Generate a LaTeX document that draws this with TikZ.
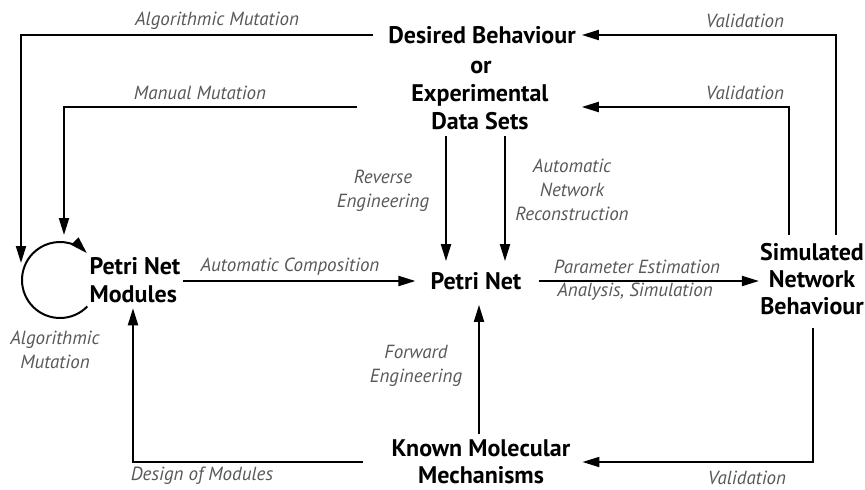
\documentclass[tikz,border=0pt]{standalone}
\usepackage{fontspec}
\setmainfont{PT Sans}
\usetikzlibrary{arrows.meta}
\definecolor{labelgrey}{HTML}{585858}
\begin{document}
\begin{tikzpicture}[x=1pt,y=-1pt,
  box/.style={font=\fontsize{24}{28.7}\selectfont\bfseries, inner sep=0pt, align=center},
  lbl/.style={font=\fontsize{19}{24}\selectfont\itshape, text=labelgrey, inner sep=0pt, align=center},
  flow/.style={line width=2pt, -{Triangle[length=17pt,width=10pt]}}]
\useasboundingbox (0,0) rectangle (865,490);

% main blocks
\node[box] (des) at (482,35) {Desired Behaviour};
\node[box] (orword) at (481,67) {or};
\node[box] (exp) at (480,107) {Experimental\\Data Sets};
\node[box] (pn) at (476,281) {Petri Net};
\node[box,align=left] (mod) at (135,280) {Petri Net\\Modules};
\node[box,font=\fontsize{24}{27}\selectfont\bfseries] (sim) at (812,279) {Simulated\\Network\\Behaviour};
\node[box,font=\fontsize{24}{27}\selectfont\bfseries] (kmm) at (481,462) {Known Molecular\\Mechanisms};

% columns and free ends of connectors
\coordinate (colRev) at (446,0);
\coordinate (colAuto) at (505,0);
\coordinate (colV1) at (836,0);
\coordinate (colV2) at (789,0);
\coordinate (colV3) at (813,0);
\coordinate (colFwd) at (479,0);
\coordinate (colDes) at (133,0);
\coordinate (algEnd) at (21,263);
\coordinate (manEnd) at (64,235);
\coordinate (loopc) at (60,280);

% connectors
\draw[flow, shorten <=15pt] (des.west) -| (algEnd);
\draw[flow, shorten <=54pt] (exp.west) -| (manEnd);
\draw[flow, shorten <=8pt, shorten >=6pt] (sim.north -| colV1) |- (des.east);
\draw[flow, shorten <=8pt, shorten >=33pt] (sim.north -| colV2) |- (exp.east);
\draw[flow, shorten <=6pt, shorten >=11pt] (exp.south -| colRev) -- (pn.north -| colRev);
\draw[flow, shorten <=6pt, shorten >=11pt] (exp.south -| colAuto) -- (pn.north -| colAuto);
\draw[flow, shorten <=2pt, shorten >=15pt] (mod.east |- pn.west) -- (pn.west);
\draw[flow, shorten <=17pt, shorten >=1pt] (pn.east) -- (sim.west |- pn.east);
\draw[flow, shorten <=13pt, shorten >=12pt] (sim.south -| colV3) |- (kmm.east);
\draw[flow, shorten <=29pt, shorten >=5pt] (kmm.west) -| (mod.south -| colDes);
\draw[flow, shorten <=6pt, shorten >=15pt] (kmm.north -| colFwd) -- (pn.south -| colFwd);
\draw[flow] (loopc) ++(44:38) arc[start angle=44, end angle=315, radius=38];

% labels
\node[lbl] (lAlg) at (217,21) {Algorithmic Mutation};
\node[lbl] (lMan) at (200,93) {Manual Mutation};
\node[lbl] (lVal1) at (745,21) {Validation};
\node[lbl] (lVal2) at (745,93) {Validation};
\node[lbl] (lRev) at (383,191) {Reverse\\Engineering};
\node[lbl] (lAuto) at (572,190) {Automatic\\Network\\Reconstruction};
\node[lbl] (lComp) at (290,267) {Automatic Composition};
\node[lbl] (lPar) at (637,267) {Parameter Estimation};
\node[lbl] (lAna) at (635,292) {Analysis, Simulation};
\node[lbl] (lVal3) at (747,478) {Validation};
\node[lbl] (lFwd) at (416,366) {Forward\\Engineering};
\node[lbl] (lDes) at (202,476) {Design of Modules};
\node[lbl] (lLoop) at (55,350) {Algorithmic\\Mutation};
\end{tikzpicture}
\end{document}
